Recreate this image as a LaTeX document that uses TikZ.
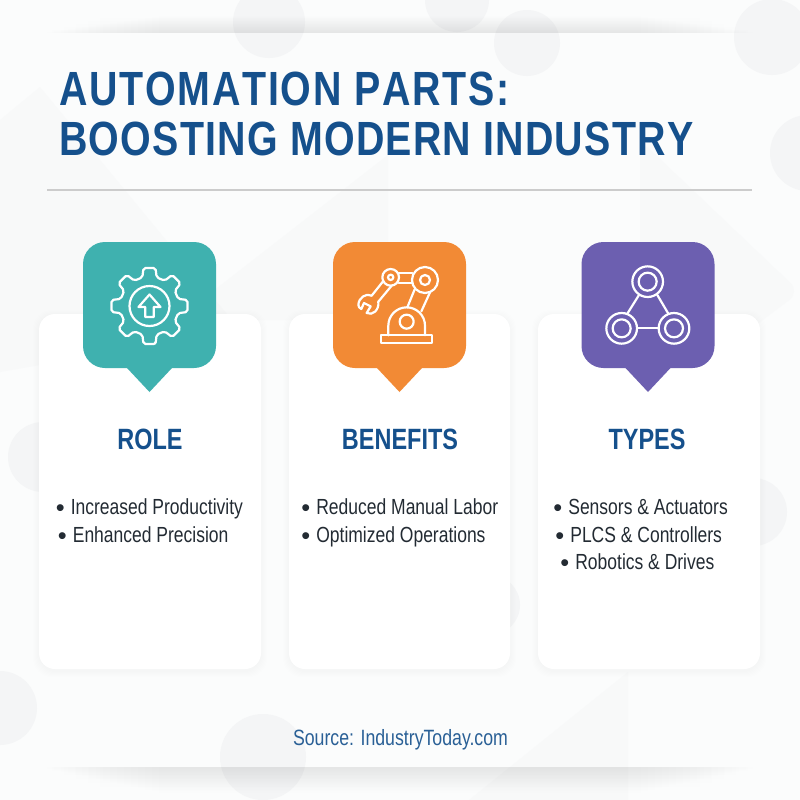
\documentclass[tikz,border=0pt]{standalone}
\usepackage{fontspec}
\setmainfont{Liberation Sans}
\newfontfamily\condf[FakeStretch=0.80]{Liberation Sans}
\newfontfamily\bulf{Liberation Sans}
\newfontfamily\titlef[FakeStretch=0.82,LetterSpace=3.6,Kerning=Off]{Liberation Sans}
\newfontfamily\titleg[FakeStretch=0.82,LetterSpace=2.6,Kerning=Off]{Liberation Sans}
\definecolor{bgc}{HTML}{FBFCFC}
\definecolor{shapec}{HTML}{E4E6E9}
\definecolor{titlec}{HTML}{15508C}
\definecolor{bodyc}{HTML}{232B33}
\definecolor{srcc}{HTML}{2A6096}
\definecolor{tealc}{HTML}{3FB1AF}
\definecolor{orangec}{HTML}{F28A35}
\definecolor{purplec}{HTML}{6C5FB0}
\tikzset{
  bgshape/.style={fill=shapec,opacity=.30,draw=none},
  bgtri/.style={fill=shapec,opacity=.13,draw=none},
  card/.style={fill=white,draw=none,rounded corners=12pt},
  icon/.style={draw=white,line width=1.65pt,fill=none,line join=round,line cap=round},
  titletext/.style={anchor=base west,inner sep=0,font=\titlef\bfseries\fontsize{36}{36}\selectfont,text=titlec},
  titletextb/.style={anchor=base west,inner sep=0,font=\titleg\bfseries\fontsize{36}{36}\selectfont,text=titlec},
  headtext/.style={anchor=base,inner sep=0,font=\condf\bfseries\fontsize{22}{22}\selectfont,text=titlec},
  bodytext/.style={anchor=base west,inner sep=0,font=\condf\fontsize{16.4}{16}\selectfont,text=bodyc},
  srctext/.style={anchor=base,inner sep=0,font=\condf\fontsize{16.6}{17}\selectfont,text=srcc},
}
\newcommand{\bul}{\makebox[11.3pt][l]{\raisebox{-2.2pt}{\bulf\fontsize{19}{16}\selectfont •}}}
\newcommand{\bubble}[2]{% centre x, colour
  \fill[#2] ({#1-66.5},264) arc[start angle=180,end angle=270,radius=22] -- ({#1+44.5},242)
    arc[start angle=270,end angle=360,radius=22] -- ({#1+66.5},346)
    arc[start angle=0,end angle=90,radius=22] -- ({#1+22.5},368) -- ({#1},392) -- ({#1-22.5},368)
    -- ({#1-44.5},368) arc[start angle=90,end angle=180,radius=22] -- cycle;
}
\begin{document}
\begin{tikzpicture}[x=0.75pt,y=-0.75pt]
\useasboundingbox (0,0) rectangle (800,800);
\fill[bgc] (0,0) rectangle (800,800);
\begin{scope}
\clip (0,0) rectangle (800,800);
% faint triangles
\fill[bgtri] (40,87) -- (240,330) -- (0,372) -- (0,120) -- cycle;
\fill[bgtri] (388,155) -- (388,320) -- (176,320) -- cycle;
\fill[bgtri,rounded corners=10pt] (640,140) -- (800,292) -- (640,412) -- cycle;
\fill[bgtri] (628,672) -- (628,800) -- (469,800) -- cycle;
% faint circles
\fill[bgshape] (269,22) circle[radius=36];
\fill[bgshape] (457,0) circle[radius=32];
\fill[bgshape] (527,43) circle[radius=33];
\fill[bgshape] (772,37) circle[radius=38];
\fill[bgshape] (808,153) circle[radius=38];
\fill[bgshape] (0,708) circle[radius=37];
\fill[bgshape] (263,757) circle[radius=43];
\fill[bgshape] (43,457) circle[radius=35];
\fill[bgshape] (753,512) circle[radius=34];
\fill[bgshape] (490,605) circle[radius=30];
% bands
\foreach \i in {0,...,17} {
  \fill[black,opacity=.004] ({40+\i*7},{33-\i}) rectangle ({760-\i*7},33);
  \fill[black,opacity=.004] ({40+\i*7},767) rectangle ({760-\i*7},{767+\i*1.5});
}
\foreach \i in {0,...,5} {
  \fill[black,opacity=.004] ({40+\i*12},{33-\i*3}) rectangle ({760-\i*12},33);
  \fill[black,opacity=.004] ({40+\i*12},767) rectangle ({760-\i*12},{767+\i*4});
}
\end{scope}
\draw[line width=1.1pt,draw=black!20] (47,190) -- (752,190);
% card shadows and cards
\foreach \xa/\xb in {39/261,289/510,538/760} {
  \foreach \s in {1,2,3,4,5,6} {
    \fill[black,opacity=.005,rounded corners=14pt] ({\xa-\s},{314-\s+2}) rectangle ({\xb+\s},{669+\s+2});
  }
  \fill[card] (\xa,314) rectangle (\xb,669);
}
\bubble{149.5}{tealc}
\bubble{399.5}{orangec}
\bubble{648}{purplec}
% gear icon
\begin{scope}[shift={(149.5,306)}]
  \draw[icon,rounded corners=1.5pt] (81:38.5)
    \foreach \a in {0,45,...,315} {
      -- ({81+\a}:38.5) -- ({99+\a}:38.5) -- ({104+\a}:29.5) -- ({121+\a}:29.5)
    } -- cycle;
  \draw[icon] (0,0) circle[radius=20];
  \draw[icon] (0,-11.5) -- (11,1) -- (4.2,1) -- (4.2,11) -- (-4.2,11) -- (-4.2,1) -- (-11,1) -- cycle;
\end{scope}
% robot icon (coordinates in 3x crop units)
\begin{scope}[shift={(320,230)},x=0.25pt,y=-0.25pt]
  \draw[icon] (182,316) rectangle (337,340);
  \draw[icon] (205,316) -- (205,287) arc[start angle=180,end angle=360,radius=55] -- (315,316);
  \draw[icon] (260,275) circle[radius=21];
  \draw[icon] (315,150) circle[radius=39];
  \draw[icon] (315,150) circle[radius=15];
  \draw[icon] (212,142) circle[radius=25];
  \draw[icon] (212,142) circle[radius=8];
  \draw[icon] (236,128) -- (277,128);
  \draw[icon] (236,158) -- (277,158);
  \draw[icon] (284,178) -- (262,232);
  \draw[icon] (330,187) -- (304,244);
  \draw[icon] (190,153) -- (155,197);
  \draw[icon] (215,167) -- (175,215);
  \draw[icon] (155,197) .. controls (138,188) and (116,203) .. (115,225)
     .. controls (115,230) and (119,235) .. (124,237) -- (132,219) -- (152,229) -- (140,249)
     .. controls (158,258) and (178,240) .. (175,215);
\end{scope}
% network icon
\begin{scope}[shift={(570,230)},x=0.25pt,y=-0.25pt]
  \foreach \p in {(233,155),(155,295),(312,295)} {
    \draw[icon] \p circle[radius=46];
    \draw[icon] \p circle[radius=27];
  }
  \draw[icon] (207,195) -- (172,251);
  \draw[icon] (262,195) -- (295,251);
  \draw[icon] (203,295) -- (265,295);
\end{scope}
% text
\node[titletext] (t1) at (59,105) {AUTOMATION PARTS:};
\node[titletextb] (t2) at (59,155) {BOOSTING MODERN INDUSTRY};
\node[headtext] (h1) at (150,449) {ROLE};
\node[headtext] (h2) at (400,449) {BENEFITS};
\node[headtext] (h3) at (647,449) {TYPES};
\node[bodytext] (b1) at (55.5,514) {\bul Increased Productivity};
\node[bodytext] (b2) at (57.5,542) {\bul Enhanced Precision};
\node[bodytext] (b3) at (301,514) {\bul Reduced Manual Labor};
\node[bodytext] (b4) at (301,542) {\bul Optimized Operations};
\node[bodytext] (b5) at (553,514) {\bul Sensors \& Actuators};
\node[bodytext] (b6) at (555,542) {\bul PLCS \& Controllers};
\node[bodytext] (b7) at (560,569) {\bul Robotics \& Drives};
\node[srctext] (s) at (400.5,745) {Source: IndustryToday.com};
\end{tikzpicture}
\end{document}
